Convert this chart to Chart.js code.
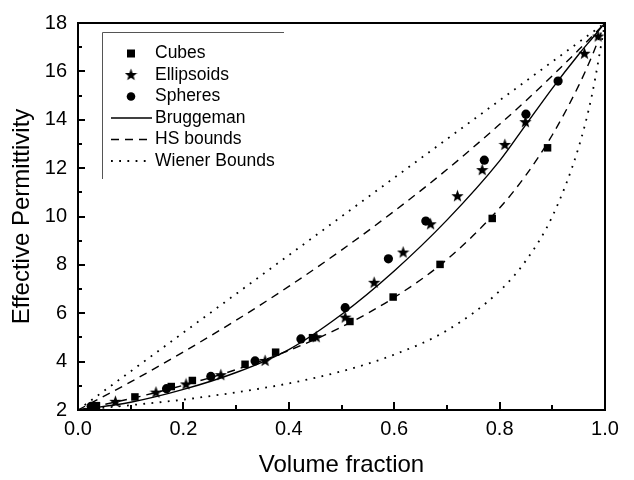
<!DOCTYPE html>
<html>
<head>
<meta charset="utf-8">
<script src="https://cdn.jsdelivr.net/npm/chart.js@4.4.1/dist/chart.umd.min.js"></script>
<style>
  html, body { margin: 0; padding: 0; background: #fff; }
  #wrap { width: 634px; height: 480px; }
</style>
</head>
<body>
<div id="wrap"><canvas id="chart"></canvas></div>
<script>
// measured points (volume fraction, permittivity)
const cubesX = [0.035, 0.108, 0.177, 0.217, 0.317, 0.375, 0.445, 0.516, 0.598, 0.687, 0.786, 0.891];
const cubesY = [2.18, 2.54, 2.97, 3.22, 3.89, 4.39, 4.99, 5.66, 6.67, 8.02, 9.92, 12.84];

const ellipsoidsX = [0.03, 0.071, 0.148, 0.205, 0.271, 0.355, 0.452, 0.507, 0.562, 0.617, 0.669, 0.72, 0.767, 0.81, 0.849, 0.961, 0.987];
const ellipsoidsY = [2.12, 2.36, 2.74, 3.08, 3.46, 4.05, 5.03, 5.84, 7.28, 8.53, 9.7, 10.86, 11.94, 12.98, 13.92, 16.75, 17.46];

const spheresX = [0.025, 0.168, 0.252, 0.336, 0.423, 0.507, 0.589, 0.66, 0.771, 0.85, 0.911];
const spheresY = [2.15, 2.88, 3.39, 4.03, 4.94, 6.23, 8.25, 9.81, 12.33, 14.23, 15.6];

// model curves, read at these fractions
const curveX = [0, 0.1, 0.2, 0.3, 0.4, 0.5, 0.6, 0.7, 0.8, 0.85, 0.9, 0.95, 0.975, 1.0];
const bruggemanY = [2, 2.32, 2.85, 3.55, 4.5, 5.95, 7.75, 9.85, 12.3, 13.8, 15.3, 16.7, 17.35, 18];
const hsUpperY = [2, 3.16, 4.4, 5.71, 7.11, 8.61, 10.22, 11.94, 13.81, 14.79, 15.82, 16.89, 17.44, 18];
const hsLowerY = [2, 2.47, 3.02, 3.67, 4.46, 5.43, 6.65, 8.22, 10.35, 11.71, 13.37, 15.41, 16.62, 18];
const wienerUpperY = [2, 3.6, 5.2, 6.8, 8.4, 10.0, 11.6, 13.2, 14.8, 15.6, 16.4, 17.2, 17.6, 18];
const wienerLowerY = [2, 2.2, 2.43, 2.73, 3.1, 3.6, 4.29, 5.29, 6.92, 8.18, 10.0, 12.86, 15.0, 18];

const xTicks = [0.0, 0.2, 0.4, 0.6, 0.8, 1.0];
const yTicks = [2, 4, 6, 8, 10, 12, 14, 16, 18];

const legendLabels = ["Cubes", "Ellipsoids", "Spheres", "Bruggeman", "HS bounds", "Wiener Bounds"];

const FONT = "'Liberation Sans', Arial, sans-serif";
const DOTS = [1.8, 6.4];
const DASHES = [8, 6];

function pts(xs, ys) {
  return xs.map((x, i) => ({ x: x, y: ys[i] }));
}

// filled five point star used as a point style
function makeStar(size) {
  const c = document.createElement("canvas");
  c.width = size;
  c.height = size;
  const g = c.getContext("2d");
  const r = size / 2, ri = r * 0.42;
  g.beginPath();
  for (let i = 0; i < 10; i++) {
    const rr = i % 2 === 0 ? r : ri;
    const a = -Math.PI / 2 + i * Math.PI / 5;
    const px = r + rr * Math.cos(a), py = r + 0.6 + rr * Math.sin(a);
    if (i === 0) g.moveTo(px, py); else g.lineTo(px, py);
  }
  g.closePath();
  g.fillStyle = "#000";
  g.fill();
  return c;
}
const star = makeStar(13);

const lineStyle = (data, dash, w) => ({
  type: "line",
  data: data,
  borderColor: "#000",
  borderWidth: w,
  borderDash: dash,
  pointRadius: 0,
  cubicInterpolationMode: "monotone",
  fill: false,
});

const frame = {
  id: "frame",
  afterDraw(chart) {
    const ctx = chart.ctx;
    const a = chart.chartArea;
    const xs = chart.scales.x, ys = chart.scales.y;
    ctx.save();
    ctx.strokeStyle = "#000";
    ctx.lineWidth = 2;
    ctx.strokeRect(a.left, a.top, a.right - a.left, a.bottom - a.top);
    // inward ticks on bottom and left
    for (let v = 0; v <= 10; v++) {
      const px = Math.round(xs.getPixelForValue(v / 10));
      const len = v % 2 === 0 ? 8 : 5;
      ctx.beginPath();
      ctx.moveTo(px, a.bottom);
      ctx.lineTo(px, a.bottom - len);
      ctx.stroke();
    }
    for (let v = 2; v <= 18; v++) {
      const py = Math.round(ys.getPixelForValue(v));
      const len = v % 2 === 0 ? 7 : 4;
      ctx.beginPath();
      ctx.moveTo(a.left, py);
      ctx.lineTo(a.left + len, py);
      ctx.stroke();
    }
    ctx.restore();
  },
};

const legendBox = {
  id: "legendBox",
  afterDraw(chart) {
    const ctx = chart.ctx;
    ctx.save();
    ctx.strokeStyle = "#555";
    ctx.lineWidth = 1;
    ctx.beginPath();
    ctx.moveTo(102.5, 179);
    ctx.lineTo(102.5, 32.5);
    ctx.lineTo(284, 32.5);
    ctx.stroke();

    const top = 53.5, step = 21.5;
    ctx.font = "17.5px " + FONT;
    ctx.fillStyle = "#000";
    ctx.textBaseline = "middle";
    legendLabels.forEach((t, i) => ctx.fillText(t, 155, top + i * step));

    // markers
    ctx.fillRect(127, top - 4, 8, 8);
    ctx.drawImage(star, 124.5, top + step - 7);
    ctx.beginPath();
    ctx.arc(131, top + 2 * step, 4.3, 0, Math.PI * 2);
    ctx.fill();

    ctx.strokeStyle = "#000";
    [[[], 1.4], [DASHES, 1.4], [DOTS, 1.8]].forEach((d, i) => {
      const y = top + (3 + i) * step;
      ctx.lineWidth = d[1];
      ctx.setLineDash(d[0]);
      ctx.beginPath();
      ctx.moveTo(111, y);
      ctx.lineTo(152, y);
      ctx.stroke();
    });
    ctx.restore();
  },
};

new Chart(document.getElementById("chart"), {
  data: {
    datasets: [
      lineStyle(pts(curveX, wienerUpperY), DOTS, 1.8),
      lineStyle(pts(curveX, wienerLowerY), DOTS, 1.8),
      lineStyle(pts(curveX, hsUpperY), DASHES, 1.4),
      lineStyle(pts(curveX, hsLowerY), DASHES, 1.4),
      lineStyle(pts(curveX, bruggemanY), [], 1.4),
      {
        type: "scatter",
        label: legendLabels[0],
        data: pts(cubesX, cubesY),
        pointStyle: "rect",
        pointRadius: 5.3,
        backgroundColor: "#000",
        borderColor: "#000",
        borderWidth: 0,
      },
      {
        type: "scatter",
        label: legendLabels[1],
        data: pts(ellipsoidsX, ellipsoidsY),
        pointStyle: star,
        pointRadius: 6,
      },
      {
        type: "scatter",
        label: legendLabels[2],
        data: pts(spheresX, spheresY),
        pointStyle: "circle",
        pointRadius: 4.6,
        backgroundColor: "#000",
        borderColor: "#000",
        borderWidth: 0,
      },
    ],
  },
  options: {
    responsive: true,
    maintainAspectRatio: false,
    animation: false,
    layout: { padding: { top: 14, right: 29, left: 0, bottom: 0 } },
    plugins: {
      legend: { display: false },
      tooltip: { enabled: false },
    },
    scales: {
      x: {
        type: "linear",
        min: 0,
        max: 1,
        afterBuildTicks: (s) => { s.ticks = xTicks.map((v) => ({ value: v })); },
        afterFit: (s) => { s.height = 70; },
        grid: { display: false, drawTicks: false },
        border: { display: false },
        ticks: {
          padding: 7,
          color: "#000",
          font: { size: 20, family: FONT },
          callback: (v) => v.toFixed(1),
        },
        title: {
          display: true,
          text: "Volume fraction",
          color: "#000",
          font: { size: 24, family: FONT },
          padding: { top: 13, bottom: 0 },
        },
      },
      y: {
        type: "linear",
        min: 2,
        max: 18,
        afterBuildTicks: (s) => { s.ticks = yTicks.map((v) => ({ value: v })); },
        afterFit: (s) => { s.width = 78; },
        grid: { display: false, drawTicks: false },
        border: { display: false },
        ticks: {
          padding: 11,
          color: "#000",
          font: { size: 20, family: FONT },
        },
        title: {
          display: true,
          text: "Effective Permittivity",
          color: "#000",
          font: { size: 24, family: FONT },
          padding: { bottom: 0, top: 8 },
        },
      },
    },
  },
  plugins: [frame, legendBox],
});
</script>
</body>
</html>
